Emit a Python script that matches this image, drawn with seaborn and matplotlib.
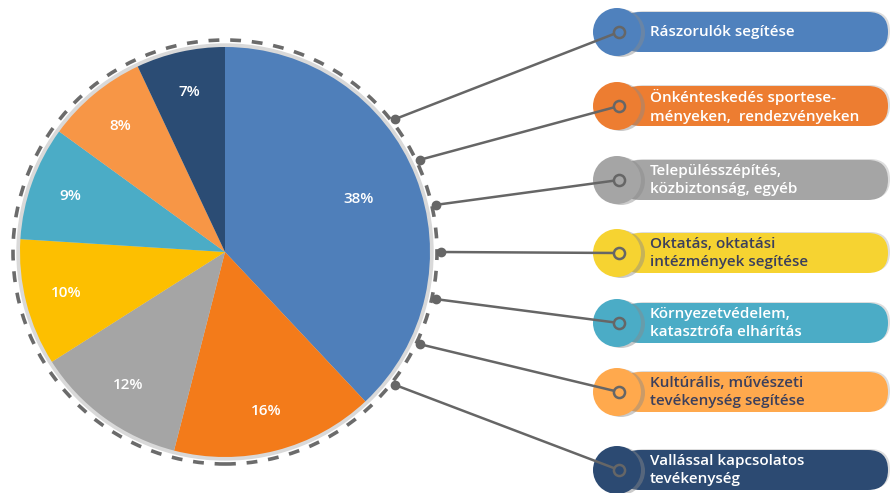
import numpy as np
import matplotlib
matplotlib.use("Agg")
import matplotlib.pyplot as plt
import seaborn as sns
from matplotlib.patches import FancyBboxPatch, Circle

sns.set_theme(style="white")
plt.rcParams['font.family'] = ['Open Sans', 'DejaVu Sans']

# data
categories = [
    "Rászorulók segítése",
    "Önkénteskedés sportese-\nményeken,  rendezvényeken",
    "Településszépítés,\nközbiztonság, egyéb",
    "Oktatás, oktatási\nintézmények segítése",
    "Környezetvédelem,\nkatasztrófa elhárítás",
    "Kultúrális, művészeti\ntevékenység segítése",
    "Vallással kapcsolatos\ntevékenység",
]
shares = [38, 16, 12, 10, 9, 8, 7]
pie_colors = ["#4F7FBA", "#F37B1A", "#A5A5A5", "#FDBF00", "#4BACC6", "#F79646", "#2B4C74"]
pill_colors = ["#4F81BD", "#ED7D31", "#A5A5A5", "#F6D331", "#4BACC6", "#FFA94D", "#2C4A72"]
text_colors = ["white", "white", "white", "#3B3F5C", "white", "#3B3F5C", "white"]

W, H = 890, 493
fig = plt.figure(figsize=(W / 100, H / 100), dpi=100)
ax = fig.add_axes([0, 0, 1, 1])

cx, cy, R = 225, 241, 205

# soft shadow + dashed ring
ax.add_patch(Circle((cx, cy), R + 3, color="#d9d9d9", zorder=0))
ax.add_patch(Circle((cx, cy), 212, fill=False, ec="#6b6b6b", lw=2.6,
                    ls=(0, (3, 3)), zorder=1))

wedges, _, autotexts = ax.pie(
    shares, colors=pie_colors, startangle=90, counterclock=False,
    center=(cx, cy), radius=R, autopct=lambda p: f"{p:.0f}%",
    pctdistance=0.8, wedgeprops=dict(linewidth=0),
    textprops=dict(color="white", fontsize=11, fontweight="semibold"))
# big slice label sits a little closer to the centre
w0 = wedges[0]
mid = np.deg2rad((w0.theta1 + w0.theta2) / 2)
autotexts[0].set_position((cx + 0.7 * R * np.cos(mid), cy + 0.7 * R * np.sin(mid)))

# legend pills
pill_y = [461, 387, 313, 240, 170, 101, 23]
dot_angles = [38, 25.3, 12.6, 0, -12.6, -25.3, -38]
ring_x = 619
for i, lab in enumerate(categories):
    py = pill_y[i]
    # bar shadow and bar
    ax.add_patch(FancyBboxPatch((624, py - 19), 266, 40,
                                boxstyle="round,pad=0,rounding_size=20",
                                fc="#dddddd", ec="none", zorder=2))
    ax.add_patch(FancyBboxPatch((620, py - 20), 268, 40,
                                boxstyle="round,pad=0,rounding_size=20",
                                fc=pill_colors[i], ec="none", zorder=3))
    # circle with shadow
    ax.add_patch(Circle((621, py - 1), 24, fc="#8a8a8a", alpha=0.45, ec="none", zorder=4))
    ax.add_patch(Circle((617, py), 24, fc=pill_colors[i], ec="none", zorder=5))
    ax.text(650, py, lab, color=text_colors[i], fontsize=11, fontweight="semibold",
            va="center", ha="left", linespacing=1.45, zorder=6)

    # connector
    a = np.deg2rad(dot_angles[i])
    dx, dy = cx + 216 * np.cos(a), cy + 216 * np.sin(a)
    ax.plot([dx, ring_x], [dy, py], color="#666666", lw=1.8, zorder=6,
            solid_capstyle="round")
    ax.plot(dx, dy, "o", color="#666666", ms=6, zorder=7)
    ax.plot(ring_x, py, "o", mfc=pill_colors[i], mec="#666666", mew=1.8, ms=8, zorder=7)

ax.set_xlim(0, W)
ax.set_ylim(0, H)
ax.set_aspect("equal")
ax.set_position([0, 0, 1, 1])
ax.axis("off")

fig.savefig("out.png", dpi=100)
